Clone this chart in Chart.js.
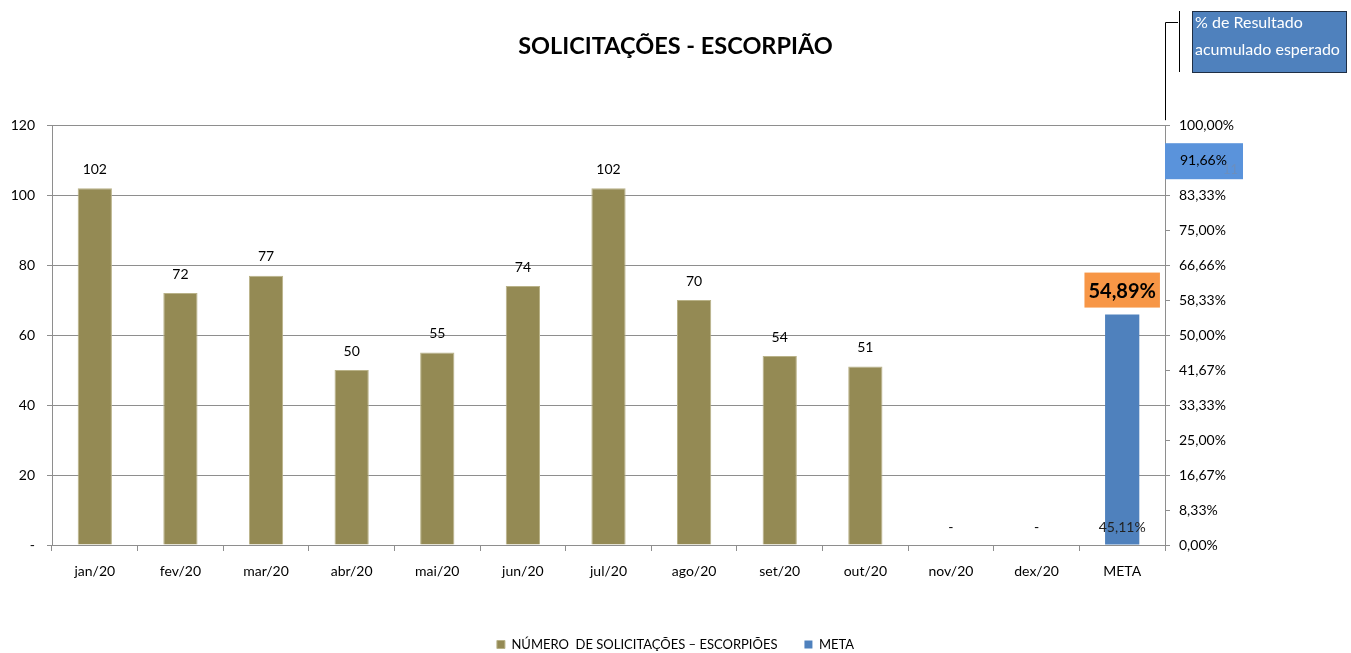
<!DOCTYPE html>
<html>
<head>
<meta charset="utf-8">
<script src="https://cdn.jsdelivr.net/npm/chart.js@4"></script>
<style>
  html, body { margin: 0; padding: 0; background: #fff; }
  #wrap { width: 1351px; height: 653px; }
</style>
</head>
<body>
<div id="wrap"><canvas id="chart" width="1351" height="653"></canvas></div>
<script>
const months = ['jan/20', 'fev/20', 'mar/20', 'abr/20', 'mai/20', 'jun/20', 'jul/20', 'ago/20', 'set/20', 'out/20', 'nov/20', 'dex/20', 'META'];
const solicitacoes = [102, 72, 77, 50, 55, 74, 102, 70, 54, 51, 0, 0, null];
const meta = [null, null, null, null, null, null, null, null, null, null, null, null, 0.5489];
const metaRestante = 0.4511;
const esperado = 0.9166;

const leftTicks = [0, 20, 40, 60, 80, 100, 120];
const rightTickValues = [0, 0.0833, 0.1667, 0.25, 0.3333, 0.4167, 0.5, 0.5833, 0.6666, 0.75, 0.8333, 0.9166, 1];
const rightTickLabels = ['0,00%', '8,33%', '16,67%', '25,00%', '33,33%', '41,67%', '50,00%', '58,33%', '66,66%', '75,00%', '83,33%', '91,66%', '100,00%'];

const FONT = 'Lato, "Open Sans", sans-serif';
const olive = '#948A54';
const blue = '#4F81BD';
const orange = '#F79646';
const gridColor = '#8E8E8E';

function pct(v) {
    return (v * 100).toFixed(2).replace('.', ',') + '%';
}

// value labels + callouts
const labelsPlugin = {
    id: 'labels',
    afterDatasetsDraw(chart) {
        const ctx = chart.ctx;
        const y1 = chart.scales.y1;
        ctx.save();
        ctx.textAlign = 'center';
        ctx.textBaseline = 'middle';

        // olive values
        chart.getDatasetMeta(0).data.forEach((bar, i) => {
            const v = solicitacoes[i];
            if (v === null) return;
            ctx.fillStyle = '#000';
            ctx.font = '14px ' + FONT;
            if (v === 0) {
                ctx.fillText('-', bar.x, bar.y - 18);
            } else {
                ctx.fillText(String(v), bar.x, bar.y - 19);
            }
        });

        // META
        const mBar = chart.getDatasetMeta(1).data[12];
        ctx.font = 'bold 20px ' + FONT;
        const txt = pct(meta[12]);
        const w = ctx.measureText(txt).width + 8;
        const boxH = 35;
        const bx = mBar.x - w / 2;
        const by = mBar.y - 7 - boxH;
        ctx.fillStyle = orange;
        ctx.fillRect(bx, by, w, boxH);
        ctx.fillStyle = '#000';
        ctx.fillText(txt, mBar.x, by + boxH / 2 + 1);

        ctx.font = '14px ' + FONT;
        ctx.fillStyle = '#222';
        ctx.fillText(pct(metaRestante), mBar.x, y1.getPixelForValue(0) - 18);
        ctx.restore();
    },
    afterDraw(chart) {
        const ctx = chart.ctx;
        const area = chart.chartArea;
        const y1 = chart.scales.y1;
        ctx.save();
        // expected result box on the right axis
        const ey = y1.getPixelForValue(esperado);
        ctx.fillStyle = '#5A93DB';
        ctx.fillRect(area.right, ey - 17, 78, 36);
        ctx.fillStyle = '#000';
        ctx.font = '14px ' + FONT;
        ctx.textAlign = 'left';
        ctx.textBaseline = 'middle';
        ctx.fillText(pct(esperado), area.right + 15, ey);
        ctx.fillStyle = 'rgba(120,140,170,0.6)';
        ctx.font = '13px ' + FONT;
        ctx.fillText('11', area.right + 58, ey + 10);

        // callout
        const cx = area.right + 27;
        const cy = 11;
        ctx.fillStyle = blue;
        ctx.fillRect(cx, cy, 154, 61);
        ctx.strokeStyle = '#1F2F45';
        ctx.lineWidth = 1;
        ctx.strokeRect(cx + 0.5, cy + 0.5, 154, 61);
        ctx.fillStyle = '#fff';
        ctx.font = '16px ' + FONT;
        ctx.textBaseline = 'middle';
        ctx.fillText('% de Resultado', cx + 3, cy + 12);
        ctx.fillText('acumulado esperado', cx + 3, cy + 39);

        ctx.strokeStyle = '#000';
        ctx.beginPath();
        ctx.moveTo(area.right + 0.5, area.top - 5);
        ctx.lineTo(area.right + 0.5, cy + 11.5);
        ctx.lineTo(area.right + 13, cy + 11.5);
        ctx.moveTo(area.right + 14.5, cy);
        ctx.lineTo(area.right + 14.5, cy + 61);
        ctx.stroke();
        ctx.restore();
    }
};

const legendFit = {
    id: 'legendFit',
    beforeInit(chart) {
        const fit = chart.legend.fit;
        chart.legend.fit = function () {
            fit.bind(chart.legend)();
            this.height = 42;
        };
    }
};

new Chart(document.getElementById('chart'), {
    type: 'bar',
    data: {
        labels: months,
        datasets: [
            {
                label: 'NÚMERO  DE SOLICITAÇÕES – ESCORPIÕES',
                data: solicitacoes,
                yAxisID: 'y',
                backgroundColor: olive,
                borderColor: '#B9B288',
                borderWidth: 1,
                grouped: false,
                categoryPercentage: 1,
                barPercentage: 0.4
            },
            {
                label: 'META',
                data: meta,
                yAxisID: 'y1',
                backgroundColor: blue,
                borderWidth: 0,
                grouped: false,
                categoryPercentage: 1,
                barPercentage: 0.4
            }
        ]
    },
    options: {
        responsive: false,
        animation: false,
        layout: { padding: { left: 0, right: 0, top: 0, bottom: 0 } },
        scales: {
            x: {
                grid: { display: true, drawOnChartArea: false, color: gridColor, tickLength: 6, offset: true },
                border: { color: gridColor },
                ticks: { color: '#000', font: { family: FONT, size: 14 }, padding: 12 },
                afterFit: a => { a.height = 66; }
            },
            y: {
                position: 'left',
                min: 0,
                max: 120,
                afterBuildTicks: a => { a.ticks = leftTicks.map(v => ({ value: v })); },
                grid: { color: gridColor, tickLength: 5 },
                border: { color: gridColor },
                ticks: {
                    color: '#000',
                    font: { family: FONT, size: 14 },
                    padding: 12,
                    callback: v => (v === 0 ? '-' : v)
                },
                afterFit: a => { a.width = 52; }
            },
            y1: {
                position: 'right',
                min: 0,
                max: 1,
                afterBuildTicks: a => { a.ticks = rightTickValues.map(v => ({ value: v })); },
                grid: { drawOnChartArea: false, color: gridColor, tickLength: 5 },
                border: { color: gridColor },
                ticks: {
                    color: '#000',
                    font: { family: FONT, size: 14 },
                    padding: 9,
                    callback: (v, i) => rightTickLabels[i]
                },
                afterFit: a => { a.width = 186; }
            }
        },
        plugins: {
            title: {
                display: true,
                text: 'SOLICITAÇÕES - ESCORPIÃO',
                color: '#000',
                font: { family: FONT, size: 23.5, weight: 'bold' },
                padding: { top: 32, bottom: 65 }
            },
            legend: {
                position: 'bottom',
                labels: {
                    color: '#000',
                    font: { family: FONT, size: 13 },
                    boxWidth: 8,
                    boxHeight: 8,
                    padding: 27
                }
            },
            tooltip: { enabled: false }
        }
    },
    plugins: [labelsPlugin, legendFit]
});
</script>
</body>
</html>
